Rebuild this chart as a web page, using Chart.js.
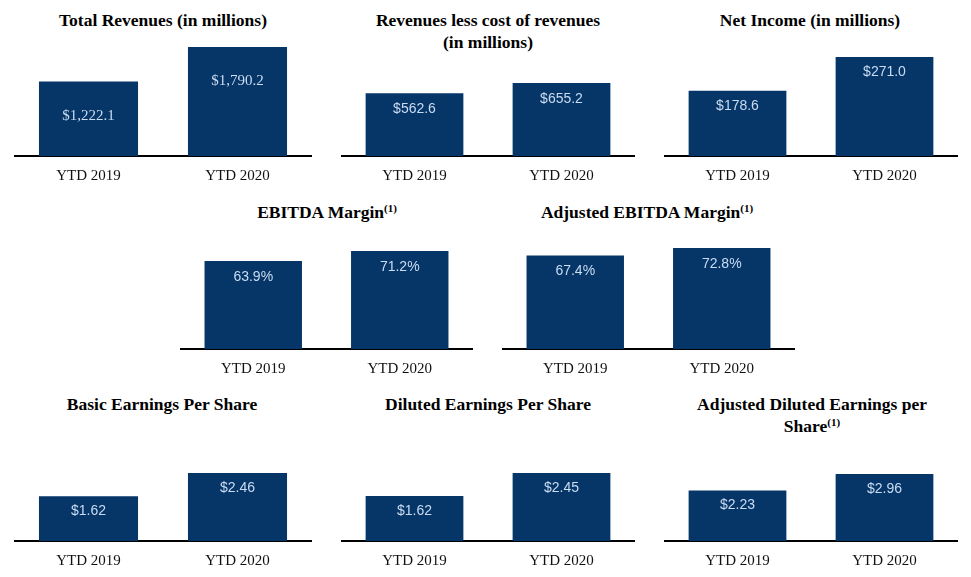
<!DOCTYPE html>
<html>
<head>
<meta charset="utf-8">
<script src="https://cdn.jsdelivr.net/npm/chart.js@4"></script>
<style>
  html, body { margin: 0; padding: 0; background: #fff; }
  body { width: 971px; height: 577px; position: relative; overflow: hidden; }
  .box { position: absolute; }
  .title { position: absolute; font-family: "Liberation Serif", "Times New Roman", serif; font-weight: bold;
           font-size: 17.5px; line-height: 22px; color: #000; text-align: center; transform: translateX(-50%);
           white-space: nowrap; }
  .title sup { font-size: 11px; line-height: 0; vertical-align: 6px; }
</style>
</head>
<body>
<script>
// ---- data ----
const categories = ['YTD 2019', 'YTD 2020'];
const totalRevenues = [1222.1, 1790.2];
const revenuesLessCost = [562.6, 655.2];
const netIncome = [178.6, 271.0];
const ebitdaMargin = [63.9, 71.2];
const adjEbitdaMargin = [67.4, 72.8];
const basicEps = [1.62, 2.46];
const dilutedEps = [1.62, 2.45];
const adjDilutedEps = [2.23, 2.96];

const titles = [
  'Total Revenues (in millions)',
  'Revenues less cost of revenues<br>(in millions)',
  'Net Income (in millions)',
  'EBITDA Margin<sup>(1)</sup>',
  'Adjusted EBITDA Margin<sup>(1)</sup>',
  'Basic Earnings Per Share',
  'Diluted Earnings Per Share',
  'Adjusted Diluted Earnings per<br>Share<sup>(1)</sup>'
];

// ---- layout / style ----
const BAR = '#063567';
const LABEL = '#c9dcf2';
const fmtMoney1 = v => '$' + v.toLocaleString('en-US', {minimumFractionDigits: 1, maximumFractionDigits: 1});
const fmtMoney2 = v => '$' + v.toFixed(2);
const fmtPct = v => v.toFixed(1) + '%';

const panels = [
  {data: totalRevenues,    fmt: fmtMoney1, left: 14,  top: 30,  w: 298, area: 126, max: 2069, tx: 163, ty: 9,   off: 34, serif: true},
  {data: revenuesLessCost, fmt: fmtMoney1, left: 341, top: 30,  w: 294, area: 126, max: 1131, tx: 488, ty: 9,   off: 16},
  {data: netIncome,        fmt: fmtMoney1, left: 664, top: 30,  w: 294, area: 126, max: 345,  tx: 810, ty: 9,   off: 15},
  {data: ebitdaMargin,     fmt: fmtPct,    left: 180, top: 230, w: 293, area: 119, max: 86.5, tx: 327, ty: 201, off: 16},
  {data: adjEbitdaMargin,  fmt: fmtPct,    left: 502, top: 230, w: 293, area: 119, max: 85.8, tx: 647, ty: 201, off: 16},
  {data: basicEps,         fmt: fmtMoney2, left: 14,  top: 430, w: 298, area: 111, max: 4.016, tx: 162, ty: 393, off: 15},
  {data: dilutedEps,       fmt: fmtMoney2, left: 341, top: 430, w: 294, area: 111, max: 4.0,  tx: 488, ty: 393, off: 15},
  {data: adjDilutedEps,    fmt: fmtMoney2, left: 664, top: 430, w: 294, area: 111, max: 4.904, tx: 812, ty: 393, off: 15}
];
const AXIS_H = 30;

const valueLabels = {
  id: 'valueLabels',
  afterDatasetsDraw(chart, args, opts) {
    const ctx = chart.ctx;
    const meta = chart.getDatasetMeta(0);
    const ds = chart.data.datasets[0];
    ctx.save();
    ctx.fillStyle = LABEL;
    ctx.font = opts.font;
    ctx.textAlign = 'center';
    ctx.textBaseline = 'middle';
    meta.data.forEach((bar, i) => {
      ctx.fillText(opts.fmt(ds.data[i]), bar.x, bar.y + opts.off);
    });
    ctx.restore();
  }
};

panels.forEach((p, idx) => {
  const t = document.createElement('div');
  t.className = 'title';
  t.style.left = p.tx + 'px';
  t.style.top = p.ty + 'px';
  t.innerHTML = titles[idx];
  document.body.appendChild(t);

  const box = document.createElement('div');
  box.className = 'box';
  box.style.left = p.left + 'px';
  box.style.top = p.top + 'px';
  box.style.width = p.w + 'px';
  box.style.height = (p.area + AXIS_H) + 'px';
  const cv = document.createElement('canvas');
  box.appendChild(cv);
  document.body.appendChild(box);

  new Chart(cv, {
    type: 'bar',
    data: {
      labels: categories,
      datasets: [{
        data: p.data,
        backgroundColor: BAR,
        borderWidth: 0,
        barPercentage: 0.665,
        categoryPercentage: 1.0
      }]
    },
    options: {
      responsive: true,
      maintainAspectRatio: false,
      animation: false,
      layout: {padding: 0},
      plugins: {
        legend: {display: false},
        tooltip: {enabled: false},
        title: {display: false},
        valueLabels: {
          fmt: p.fmt,
          off: p.off,
          font: (p.serif ? '15px "Liberation Serif", serif' : '14px "Liberation Sans", Arial, sans-serif')
        }
      },
      scales: {
        y: {display: false, min: 0, max: p.max},
        x: {
          display: true,
          offset: true,
          grid: {display: false, drawTicks: false},
          border: {display: true, color: '#000', width: 2},
          ticks: {
            color: '#111',
            padding: 11,
            font: {family: '"Liberation Serif", "Times New Roman", serif', size: 15}
          },
          afterFit(scale) { scale.height = AXIS_H; }
        }
      }
    },
    plugins: [valueLabels]
  });
});
</script>
</body>
</html>
